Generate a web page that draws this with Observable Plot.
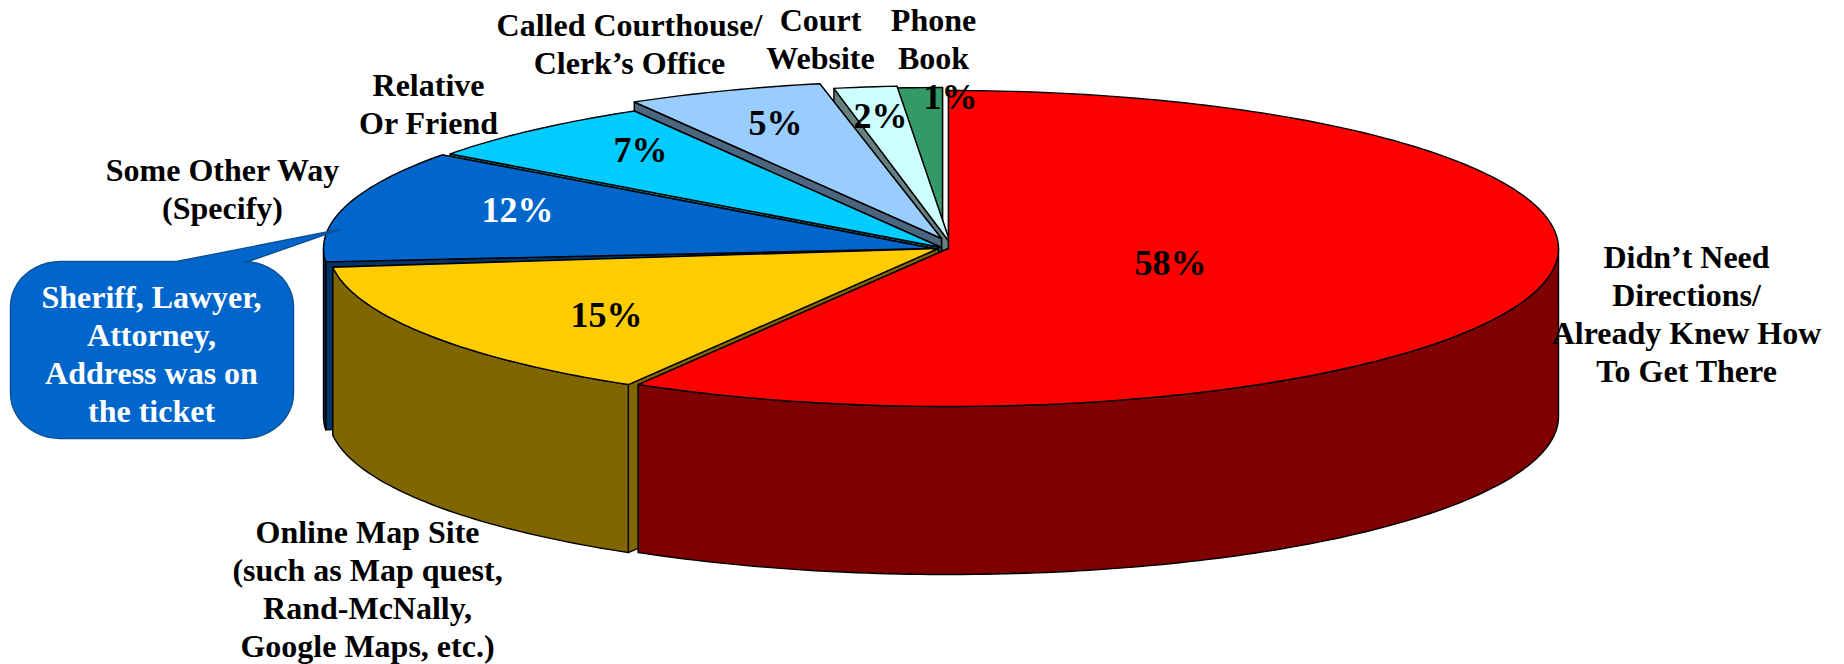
<!DOCTYPE html>
<html><head><meta charset="utf-8">
<script src="https://cdn.jsdelivr.net/npm/d3@7"></script>
<script src="https://cdn.jsdelivr.net/npm/@observablehq/plot@0.6"></script>
<style>html,body{margin:0;padding:0;background:#fff}svg{display:block}</style>
</head><body><div id="c"></div><script>
// data
const categories = ["Didn’t Need\nDirections/\nAlready Knew How\nTo Get There","Online Map Site\n(such as Map quest,\nRand-McNally,\nGoogle Maps, etc.)","Some Other Way\n(Specify)","Relative\nOr Friend","Called Courthouse/\nClerk’s Office","Court\nWebsite","Phone\nBook"];
const shares = [58.49,14.61,12,6.5,5.2,1.8,1.4];
const topColors = ["#ff0000","#ffcc00","#0066cc","#00ccff","#99ccff","#ccffff","#339966"];
const sideColors = ["#7f0000","#806600","#003366","#006680","#4d6680","#668080","#1a4d33"];
const pctColors = ["#000","#000","#fff","#000","#000","#000","#000"];
const calloutText = "Sheriff, Lawyer,\nAttorney,\nAddress was on\nthe ticket";
// layout (pixels)
const W=1844,H=664,RX=610,RY=158,DEPTH=168;
const centers=[[948,248],[938,248],[933,248],[941,247],[941,238],[950,243],[942,245]];
const startNudge=[0,0,2,0,0,.5,.5];
const labelPos=[[1686,312],[367,587],[222,187],[428,102],[629,42],[820,37],[933,37]];
const pctPos=[[1170,263],[606,315],[517,210],[640,150],[775,123],[880,116],[950,97]];
const font="'Liberation Serif','Times New Roman',serif";

let cum=0;
const slices=shares.map((v,i)=>{const a=cum*3.6+startNudge[i];cum+=v;return {i,a0:a,a1:cum*3.6,cx:centers[i][0],cy:centers[i][1]};});
const rim=(s,deg,dy=0)=>{const t=deg*Math.PI/180;return {x:s.cx+RX*Math.sin(t),y:s.cy-RY*Math.cos(t)+dy};};
const arc=(s,a,b,dy=0)=>{const n=Math.max(2,Math.ceil(Math.abs(b-a)));return d3.range(n+1).map(k=>rim(s,a+(b-a)*k/n,dy));};
const close=p=>[...p,p[0]];
const poly=(pts,fill,sw=1.4)=>Plot.line(close(pts),{x:"x",y:"y",fill,stroke:"#000",strokeWidth:sw,strokeLinejoin:"round"});

const marks=[];
for(const s of [...slices].slice(1).reverse().concat(slices[0])){
  const side=sideColors[s.i], apex={x:s.cx,y:s.cy}, apexB={x:s.cx,y:s.cy+DEPTH};
  const r0=rim(s,s.a0), r1=rim(s,s.a1);
  marks.push(poly([apex,r1,{x:r1.x,y:r1.y+DEPTH},apexB],side));
  marks.push(poly([apex,r0,{x:r0.x,y:r0.y+DEPTH},apexB],side));
  const lo=Math.max(s.a0,90), hi=Math.min(s.a1,270);
  if(hi>lo) marks.push(poly([...arc(s,lo,hi),...arc(s,hi,lo,DEPTH)],side));
  marks.push(poly([apex,...arc(s,s.a0,s.a1)],topColors[s.i]));
}
// callout
const bx0=10,bx1=293,by0=261,by1=438,br=50,bk=.9;
const corner=(cx,cy,a0)=>d3.range(0,13).map(k=>{const t=(a0+k*7.5)*Math.PI/180;return {x:cx+br*Math.cos(t),y:cy+bk*br*Math.sin(t)};});
const callout=[
 ...corner(bx0+br,by0+bk*br,180),
 {x:176,y:by0},{x:339,y:229},{x:248,y:by0},
 ...corner(bx1-br,by0+bk*br,270),
 ...corner(bx1-br,by1-bk*br,0),
 ...corner(bx0+br,by1-bk*br,90)
];
marks.push(Plot.line(close(callout),{x:"x",y:"y",fill:"#0066cc",stroke:"#0b4f94",strokeWidth:1.4}));

const textBase={x:d=>d.x,y:d=>d.y,text:d=>d.t,fontFamily:font,fontWeight:"bold",lineAnchor:"middle",textAnchor:"middle"};
marks.push(Plot.text(categories.map((t,i)=>({t,x:labelPos[i][0],y:labelPos[i][1]})),{...textBase,fontSize:32,lineHeight:1.19,fill:"#000"}));
marks.push(Plot.text(shares.map((v,i)=>({t:Math.round(v)+"%",x:pctPos[i][0],y:pctPos[i][1],c:pctColors[i]})),{...textBase,fontSize:36,fill:d=>d.c}));
marks.push(Plot.text([{t:calloutText,x:151,y:352}],{...textBase,fontSize:32,lineHeight:1.19,fill:"#fff"}));

document.getElementById("c").append(Plot.plot({
  width:W,height:H,margin:0,
  x:{domain:[0,W],range:[0,W],axis:null},
  y:{domain:[0,H],range:[0,H],axis:null},
  color:{type:"identity"},
  marks
}));
</script></body></html>
